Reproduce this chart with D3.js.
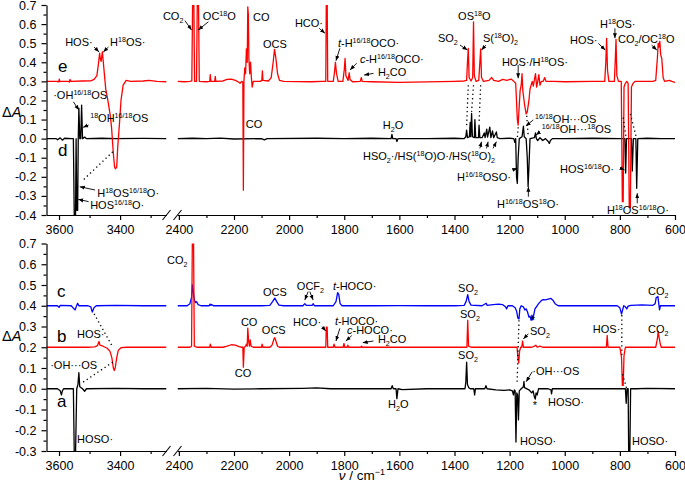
<!DOCTYPE html>
<html><head><meta charset="utf-8">
<script src="https://cdn.jsdelivr.net/npm/d3@7"></script>
<style>
body{margin:0;background:#fff;}
svg{display:block;font-family:Arial,"Liberation Sans",sans-serif;}
</style></head><body>
<svg id="chart" width="685" height="483"></svg>
<script>
// ---------- tick labels ----------
const xTicksLeft = [3600, 3400];
const xMinorLeft = [3500, 3300];
const xTicksRight = [2400, 2200, 2000, 1800, 1600, 1400, 1200, 1000, 800, 600];
const xMinorRight = [2300, 2100, 1900, 1700, 1500, 1300, 1100, 900, 700];
const yTicksTop = [-0.4, -0.3, -0.2, -0.1, 0.0, 0.1, 0.2, 0.3, 0.4, 0.5, 0.6, 0.7];
const yMinorTop = [-0.35, -0.25, -0.15, -0.05, 0.05, 0.15, 0.25, 0.35, 0.45, 0.55, 0.65];
const yTicksBot = [-0.3, -0.2, -0.1, 0.0, 0.1, 0.2, 0.3, 0.4, 0.5, 0.6, 0.7];
const yMinorBot = [-0.25, -0.15, -0.05, 0.05, 0.15, 0.25, 0.35, 0.45, 0.55, 0.65];

// ---------- spectra [wavenumber, dA] ----------
// top panel, trace e (red)
const eLeft = [[3641,0.300],[3609,0.300],[3601,0.298],[3599,0.312],[3598,0.300],[3569,0.300],[3566,0.296],[3564,0.310],[3561,0.300],[3523,0.302],[3496,0.303],[3485,0.310],[3476,0.330],[3471,0.390],[3467,0.448],[3465,0.420],[3462,0.405],[3458,0.455],[3456,0.420],[3451,0.330],[3447,0.260],[3440,0.200],[3433,0.130],[3428,0.060],[3422,-0.080],[3418,-0.150],[3415,-0.158],[3411,-0.148],[3408,-0.050],[3402,0.080],[3397,0.200],[3390,0.280],[3380,0.305],[3365,0.300],[3324,0.302],[3306,0.305],[3279,0.300],[3248,0.298]];
const eRight = [[2405,0.300],[2380,0.298],[2360,0.300],[2353,0.302],[2350,0.75],[2346,0.75],[2343,0.300],[2336,0.300],[2333,0.75],[2329,0.75],[2326,0.300],[2300,0.298],[2288,0.300],[2286,0.335],[2284,0.300],[2270,0.300],[2268,0.326],[2266,0.300],[2240,0.302],[2225,0.310],[2210,0.312],[2195,0.305],[2185,0.298],[2178,0.290],[2172,0.300],[2168,0.295],[2166,-0.27],[2164,0.300],[2161,0.370],[2158,0.340],[2155,0.470],[2152,0.400],[2150,0.690],[2148,0.650],[2146,0.420],[2143,0.340],[2140,0.400],[2137,0.320],[2134,0.270],[2130,0.300],[2105,0.300],[2099,0.305],[2097,0.355],[2095,0.305],[2075,0.302],[2065,0.320],[2058,0.400],[2053,0.468],[2048,0.420],[2042,0.340],[2035,0.305],[2020,0.300],[1920,0.298],[1880,0.300],[1867,0.300],[1865,0.75],[1862,0.75],[1860,0.300],[1840,0.300],[1836,0.340],[1832,0.400],[1828,0.340],[1822,0.300],[1805,0.300],[1800,0.360],[1797,0.420],[1794,0.330],[1786,0.305],[1782,0.345],[1779,0.310],[1770,0.298],[1742,0.300],[1738,0.320],[1735,0.300],[1700,0.298],[1600,0.295],[1500,0.297],[1400,0.300],[1365,0.302],[1356,0.305],[1353,0.400],[1350,0.473],[1347,0.320],[1340,0.302],[1334,0.320],[1331,0.612],[1328,0.330],[1322,0.300],[1312,0.305],[1308,0.400],[1305,0.470],[1302,0.320],[1295,0.300],[1275,0.305],[1265,0.320],[1258,0.305],[1240,0.300],[1225,0.310],[1210,0.305],[1195,0.312],[1185,0.300],[1178,0.290],[1172,0.100],[1169,0.071],[1166,0.150],[1162,0.250],[1158,0.280],[1155,0.340],[1152,0.250],[1146,0.180],[1140,0.130],[1136,0.140],[1130,0.200],[1126,0.260],[1122,0.280],[1118,0.300],[1114,0.275],[1110,0.310],[1106,0.340],[1102,0.270],[1098,0.300],[1094,0.335],[1090,0.280],[1085,0.300],[1078,0.300],[1073,0.320],[1068,0.300],[1040,0.300],[1000,0.298],[900,0.300],[855,0.300],[851,0.400],[848,0.525],[845,0.360],[840,0.300],[820,0.300],[817,0.400],[814,0.520],[811,0.330],[805,0.300],[795,0.300],[791,-0.33],[788,-0.33],[785,0.270],[780,0.290],[775,0.300],[770,0.290],[766,-0.36],[762,-0.36],[758,0.270],[752,0.290],[745,0.300],[680,0.300],[670,0.305],[664,0.420],[661,0.500],[658,0.480],[655,0.510],[652,0.440],[648,0.420],[643,0.320],[638,0.300],[620,0.305],[612,0.300],[600,0.295]];
// top panel, trace d (black)
const dLeft = [[3641,0.000],[3609,0.000],[3605,-0.006],[3596,0.004],[3589,-0.008],[3582,0.002],[3560,0.000],[3553,0.000],[3550,-0.42],[3546,-0.42],[3544,0.000],[3542,-0.375],[3539,-0.375],[3537,0.000],[3535,0.160],[3532,0.000],[3529,0.000],[3526,0.176],[3523,0.000],[3516,0.008],[3510,0.000],[3460,0.002],[3415,0.000],[3324,0.001],[3248,0.000]];
const dRight = [[2405,0.000],[2350,0.002],[2300,0.000],[2250,0.003],[2200,-0.002],[2100,0.000],[2090,-0.006],[2080,0.000],[1900,0.002],[1800,0.000],[1700,0.002],[1630,0.000],[1627,0.022],[1624,0.000],[1612,0.000],[1609,-0.015],[1605,0.000],[1500,0.000],[1400,0.002],[1365,0.000],[1359,0.010],[1356,0.045],[1353,0.005],[1346,0.010],[1343,0.085],[1341,0.010],[1338,0.132],[1335,0.010],[1328,0.005],[1326,0.100],[1323,0.005],[1313,0.005],[1311,0.070],[1308,0.005],[1300,0.005],[1292,0.030],[1289,0.005],[1283,0.050],[1280,0.008],[1272,0.060],[1268,0.005],[1262,0.040],[1258,0.005],[1248,0.035],[1245,0.005],[1235,0.000],[1200,0.002],[1185,0.000],[1181,-0.020],[1178,0.000],[1175,-0.20],[1172,-0.234],[1169,-0.10],[1165,0.000],[1155,0.010],[1150,0.065],[1147,0.010],[1140,0.000],[1136,-0.100],[1133,-0.250],[1130,-0.150],[1126,0.000],[1110,0.005],[1106,0.030],[1103,0.000],[1098,-0.010],[1090,0.005],[1080,-0.010],[1070,0.000],[1060,-0.015],[1056,-0.025],[1052,-0.010],[1045,0.000],[1000,0.000],[900,0.002],[800,0.000],[782,0.000],[779,-0.18],[776,0.000],[758,0.000],[755,-0.17],[751,0.000],[742,0.000],[739,-0.26],[735,0.000],[700,0.002],[650,0.000],[600,0.000]];
// bottom panel, trace c (blue)
const cLeft = [[3641,0.400],[3605,0.400],[3600,0.392],[3596,0.402],[3560,0.400],[3551,0.385],[3547,0.380],[3543,0.398],[3539,0.412],[3535,0.400],[3505,0.400],[3496,0.395],[3491,0.370],[3485,0.392],[3478,0.400],[3415,0.402],[3324,0.400],[3248,0.400]];
const cRight = [[2405,0.400],[2370,0.400],[2360,0.410],[2354,0.440],[2351,0.500],[2348,0.470],[2344,0.430],[2340,0.415],[2336,0.420],[2330,0.405],[2320,0.400],[2290,0.400],[2287,0.408],[2284,0.402],[2281,0.406],[2275,0.400],[2100,0.400],[2070,0.402],[2060,0.420],[2052,0.437],[2045,0.420],[2037,0.403],[2020,0.400],[1950,0.400],[1943,0.410],[1938,0.402],[1916,0.402],[1913,0.410],[1908,0.400],[1840,0.400],[1830,0.420],[1824,0.463],[1820,0.455],[1815,0.410],[1808,0.400],[1700,0.400],[1600,0.401],[1500,0.400],[1400,0.400],[1365,0.402],[1358,0.420],[1352,0.453],[1347,0.420],[1340,0.403],[1300,0.400],[1285,0.412],[1282,0.402],[1260,0.405],[1240,0.408],[1225,0.405],[1215,0.395],[1211,0.385],[1206,0.400],[1190,0.400],[1180,0.390],[1175,0.375],[1170,0.340],[1166,0.337],[1163,0.385],[1158,0.400],[1150,0.395],[1145,0.380],[1140,0.385],[1135,0.370],[1130,0.345],[1126,0.350],[1122,0.330],[1119,0.355],[1116,0.332],[1112,0.360],[1108,0.385],[1100,0.400],[1095,0.410],[1085,0.425],[1078,0.430],[1070,0.428],[1060,0.432],[1050,0.435],[1042,0.425],[1035,0.410],[1024,0.400],[900,0.400],[810,0.400],[800,0.390],[794,0.360],[790,0.380],[786,0.400],[780,0.395],[775,0.385],[770,0.398],[760,0.402],[720,0.404],[680,0.402],[672,0.410],[668,0.440],[665,0.440],[662,0.445],[659,0.410],[656,0.380],[653,0.400],[640,0.400],[600,0.400]];
// bottom panel, trace b (red)
const bLeft = [[3641,0.200],[3596,0.200],[3505,0.200],[3483,0.202],[3474,0.208],[3469,0.228],[3466,0.210],[3456,0.205],[3442,0.195],[3433,0.180],[3427,0.150],[3422,0.100],[3419,0.088],[3416,0.100],[3411,0.150],[3406,0.185],[3397,0.198],[3379,0.200],[3324,0.200],[3248,0.200]];
const bRight = [[2405,0.200],[2360,0.200],[2354,0.205],[2351,0.75],[2347,0.75],[2344,0.205],[2335,0.200],[2288,0.200],[2286,0.215],[2283,0.200],[2240,0.200],[2225,0.205],[2210,0.212],[2195,0.210],[2182,0.203],[2172,0.200],[2168,0.200],[2166,0.104],[2163,0.200],[2158,0.205],[2155,0.215],[2152,0.205],[2150,0.292],[2147,0.230],[2144,0.205],[2141,0.235],[2138,0.205],[2130,0.200],[2100,0.200],[2098,0.215],[2095,0.200],[2070,0.200],[2062,0.210],[2055,0.240],[2052,0.246],[2048,0.230],[2042,0.205],[2035,0.200],[1870,0.200],[1867,0.200],[1865,0.297],[1862,0.297],[1860,0.200],[1840,0.200],[1837,0.215],[1834,0.200],[1804,0.200],[1801,0.218],[1798,0.200],[1790,0.200],[1787,0.210],[1784,0.200],[1740,0.200],[1737,0.205],[1734,0.200],[1500,0.200],[1400,0.200],[1355,0.200],[1352,0.330],[1349,0.205],[1340,0.200],[1200,0.200],[1173,0.200],[1170,0.150],[1167,0.124],[1164,0.180],[1160,0.200],[1156,0.200],[1153,0.230],[1150,0.200],[1120,0.200],[1110,0.205],[1105,0.210],[1100,0.200],[1090,0.205],[1080,0.200],[860,0.200],[849,0.200],[846,0.257],[843,0.200],[800,0.200],[794,0.150],[791,0.016],[788,0.016],[785,0.160],[780,0.200],[670,0.200],[664,0.240],[661,0.276],[658,0.250],[654,0.220],[650,0.200],[600,0.200]];
// bottom panel, trace a (black)
const aLeft = [[3641,0.000],[3605,0.000],[3596,-0.010],[3592,-0.030],[3589,-0.010],[3585,0.000],[3560,0.000],[3553,0.000],[3550,-0.32],[3546,-0.32],[3542,0.000],[3538,0.020],[3535,0.077],[3532,0.010],[3523,0.000],[3516,-0.012],[3510,0.000],[3415,0.002],[3324,0.000],[3248,0.000]];
const aRight = [[2405,0.000],[2300,0.002],[2200,-0.002],[2100,0.000],[1950,0.002],[1900,0.004],[1850,0.000],[1700,0.000],[1630,0.000],[1626,0.015],[1622,0.000],[1612,0.000],[1609,-0.048],[1605,0.000],[1590,-0.004],[1500,0.000],[1400,0.000],[1362,0.000],[1359,0.030],[1356,0.128],[1353,0.020],[1348,0.005],[1343,0.000],[1330,0.000],[1327,-0.030],[1324,0.000],[1290,0.000],[1286,0.015],[1282,0.000],[1250,-0.005],[1220,-0.008],[1200,-0.005],[1190,-0.010],[1186,-0.030],[1183,-0.005],[1180,-0.010],[1177,-0.257],[1174,-0.020],[1171,-0.030],[1168,-0.150],[1165,-0.010],[1158,0.000],[1150,0.010],[1148,0.035],[1146,0.005],[1130,-0.005],[1120,-0.020],[1115,-0.010],[1110,-0.040],[1107,-0.050],[1104,-0.020],[1100,-0.030],[1095,0.000],[1060,0.000],[1050,-0.005],[1048,-0.025],[1045,0.000],[1000,0.000],[900,0.000],[790,0.000],[780,0.000],[777,-0.07],[774,0.000],[770,0.000],[768,-0.32],[764,-0.32],[761,0.000],[740,0.000],[700,0.002],[600,0.000]];

// ---------- annotations (wavenumber, dA) ----------
const lettersTop = [["e",3603,0.349],["d",3603,-0.091]];
const lettersBot = [["c",3607,0.442],["b",3607,0.225],["a",3607,-0.088]];
const labelsTop = [
 ["HOS·",3580,0.485],["H^{18}OS·",3433,0.485],["·OH^{16/18}OS",3619,0.208],["^{18}OH^{16/18}OS",3498,0.087],
 ["H^{18}OS^{16/18}O·",3475,-0.306],["HOS^{16/18}O·",3498,-0.369],
 ["CO_{2}",2458,0.621],["OC^{18}O",2313,0.621],["CO",2131,0.616],["OCS",2095,0.475],["HCO·",1979,0.585],
 ["<i>t</i>-H^{16/18}OCO·",1823,0.480],["<i>c</i>-H^{16/18}OCO·",1743,0.396],["H_{2}CO",1678,0.328],
 ["CO",2157,0.056],["H_{2}O",1660,0.050],["HSO_{2}·/HS(^{18}O)O·/HS(^{18}O)_{2}",1732,-0.112],
 ["OS^{18}O",1387,0.621],["SO_{2}",1460,0.506],["S(^{18}O)_{2}",1297,0.506],["HOS·/H^{18}OS·",1228,0.380],
 ["^{16/18}OH···OS",1108,0.080],["^{16/18}OH···^{18}OS",1083,0.028],["H^{16/18}OSO·",1391,-0.222],
 ["H^{16/18}OS^{18}O·",1246,-0.363],["HOS·",981,0.496],["H^{18}OS·",872,0.579],["CO_{2}/OC^{18}O",807,0.501],
 ["HOS^{16/18}O·",1017,-0.180],["H^{18}OS^{16/18}O·",847,-0.395]
];
const arrowsTop = [
 [[3485,0.48],[3469,0.454]],[[3438,0.48],[3455,0.454]],[[3553,0.193],[3535,0.150]],[[3503,0.071],[3521,0.059]],
 [[3482,-0.269],[3532,-0.252]],[[3503,-0.330],[3537,-0.318]],[[2378,0.618],[2354,0.569]],[[2293,0.612],[2330,0.569]],
 [[1891,0.578],[1870,0.552]],[[1816,0.473],[1830,0.408]],[[1755,0.395],[1779,0.360]],[[1694,0.342],[1728,0.333]],
 [[1380,0.49],[1353,0.464]],[[1286,0.49],[1302,0.464]],[[1169,0.386],[1169,0.316]],[[1114,0.098],[1141,0.066]],
 [[1090,0.036],[1104,0.019]],[[1308,-0.051],[1302,-0.016]],[[1284,-0.051],[1278,-0.016]],[[1260,-0.051],[1248,-0.016]],
 [[1190,-0.164],[1172,-0.155]],[[1132,-0.304],[1132,-0.252]],[[878,0.499],[853,0.464]],[[818,0.578],[818,0.526]],
 [[685,0.49],[666,0.464]],[[797,-0.155],[783,-0.164]],[[737,-0.339],[737,-0.286]]
];
const dotsTop = [
 [[3424,-0.069],[3521,-0.217]],[[1350,0.28],[1356,0.07]],[[1331,0.28],[1338,0.14]],[[1305,0.28],[1311,0.08]],
 [[1169,0.06],[1172,0.005]],[[1138,0.12],[1133,0.02]],[[788,0.11],[778,0.01]],[[762,0.13],[741,0.01]]
];
const labelsBot = [
 ["HOS·",3541,0.245],["·OH···OS",3629,0.095],["HOSO·",3541,-0.261],["CO_{2}",2443,0.601],
 ["OCS",2095,0.447],["OCF_{2}",1972,0.476],["<i>t</i>-HOCO·",1841,0.476],["CO",2175,0.302],["OCS",2099,0.264],
 ["HCO·",1986,0.302],["<i>t</i>-HOCO·",1834,0.309],["<i>c</i>-HOCO·",1790,0.265],["H_{2}CO",1678,0.221],
 ["CO",2197,0.057],["H_{2}O",1641,-0.093],["SO_{2}",1387,0.466],["SO_{2}",1380,0.341],["SO_{2}",1126,0.260],
 ["HOS·",898,0.269],["CO_{2}",698,0.452],["CO_{2}",698,0.269],["SO_{2}",1387,0.143],["·OH···OS",1118,0.066],
 ["HOSO·",1061,-0.083],["HOSO·",1162,-0.27],["HOSO·",756,-0.27]
];
const starsBot = [[1116,0.312],[1108,-0.097]];
const arrowsBot = [
 [[1931,0.468],[1943,0.428]],[[1925,0.468],[1913,0.428]],[[1880,0.299],[1867,0.278]],[[1816,0.291],[1830,0.23]],
 [[1773,0.256],[1794,0.23]],[[1694,0.23],[1733,0.222]],[[1132,0.265],[1150,0.24]],[[1118,0.082],[1140,0.034]]
];
const dotsBot = [
 [[3485,0.361],[3424,0.2]],[[3424,0.128],[3521,0.032]],[[1166,0.33],[1173,0.02]],[[793,0.355],[793,0.16]],[[790,0.07],[775,0.0]]
];

// ---------- scales ----------
const svg = d3.select("#chart");
const xL = d3.scaleLinear().domain([3641, 3248]).range([46.5, 166.5]);
const xR = d3.scaleLinear().domain([2405, 600]).range([177.5, 675]);
const X = v => v > 3000 ? xL(v) : xR(v);
const yTop = d3.scaleLinear().domain([-0.4, 0.7]).range([215, 5]);
const yBot = d3.scaleLinear().domain([-0.3, 0.7]).range([451, 243.5]);

const defs = svg.append("defs");
defs.append("marker").attr("id","arr").attr("viewBox","0 0 10 10").attr("refX",10).attr("refY",5)
  .attr("markerWidth",5).attr("markerHeight",5).attr("markerUnits","userSpaceOnUse").attr("orient","auto")
  .append("path").attr("d","M0,1L10,5L0,9Z").attr("fill","#000");

function clip(id, xs, ys){
  const xr = xs.range(), yr = ys.range();
  defs.append("clipPath").attr("id", id).append("rect")
    .attr("x", Math.min(...xr)).attr("y", Math.min(...yr))
    .attr("width", Math.abs(xr[1]-xr[0])).attr("height", Math.abs(yr[1]-yr[0]));
}
clip("tl", xL, yTop); clip("tr", xR, yTop); clip("bl", xL, yBot); clip("br", xR, yBot);

function rich(sel, s){
  const re = /\^\{([^}]*)\}|_\{([^}]*)\}|<i>([^<]*)<\/i>|([^\^_<]+)/g;
  let m, shift = 0;
  while ((m = re.exec(s))) {
    let target = 0, txt, small = false, ital = false;
    if (m[1] !== undefined) { target = -4; txt = m[1]; small = true; }
    else if (m[2] !== undefined) { target = 3; txt = m[2]; small = true; }
    else if (m[3] !== undefined) { txt = m[3]; ital = true; }
    else txt = m[4];
    const t = sel.append("tspan").attr("dy", target - shift);
    shift = target;
    if (small) t.attr("font-size", "0.65em");
    if (ital) t.attr("font-style", "italic");
    t.text(txt);
  }
}

const line = (ys, xs) => d3.line().x(d => xs(d[0])).y(d => ys(d[1]));

function trace(data, xs, ys, color, cid){
  svg.append("path").datum(data).attr("d", line(ys, xs)).attr("fill","none")
    .attr("stroke", color).attr("stroke-width", 1.3).attr("stroke-linejoin","round")
    .attr("clip-path", `url(#${cid})`);
}

function axes(ys, yMaj, yMin, yAxisPos){
  const fmt = d => d.toFixed(1);
  const ya = svg.append("g").attr("transform","translate(46.5,0)")
    .call(d3.axisLeft(ys).tickValues(yMaj).tickSize(5).tickSizeOuter(0).tickPadding(5).tickFormat(fmt));
  ya.attr("font-size", 12.5).attr("font-family", "Arial,'Liberation Sans',sans-serif");
  const ym = svg.append("g").attr("transform","translate(46.5,0)")
    .call(d3.axisLeft(ys).tickValues(yMin).tickSize(3).tickFormat(""));
  ym.select(".domain").remove();
  [[xL, xTicksLeft, xMinorLeft], [xR, xTicksRight, xMinorRight]].forEach(([xs, maj, mi]) => {
    const g = svg.append("g").attr("transform", `translate(0,${yAxisPos})`)
      .call(d3.axisBottom(xs).tickValues(maj).tickSize(5).tickSizeOuter(0).tickPadding(5).tickFormat(d => d));
    g.attr("font-size", 12.5).attr("font-family", "Arial,'Liberation Sans',sans-serif");
    const gm = svg.append("g").attr("transform", `translate(0,${yAxisPos})`)
      .call(d3.axisBottom(xs).tickValues(mi).tickSize(3).tickFormat(""));
    gm.select(".domain").remove();
  });
  svg.selectAll(".domain, .tick line").attr("stroke-width", 1.2);
  const cx1 = xL.range()[1], cx2 = xR.range()[0];
  [cx1, cx2].forEach(cx => {
    svg.append("line").attr("x1", cx-4).attr("y1", yAxisPos+5).attr("x2", cx+4).attr("y2", yAxisPos-5)
      .attr("stroke","#000").attr("stroke-width",1.1);
  });
}

function annotate(ys, labels, arrows, dots, letters){
  labels.forEach(([t, v, a]) => {
    const tx = svg.append("text").attr("x", X(v)).attr("y", ys(a)).attr("font-size", 11).attr("fill","#000");
    rich(tx, t);
  });
  letters.forEach(([t, v, a]) => {
    svg.append("text").attr("x", X(v)).attr("y", ys(a)).attr("font-size", 17).text(t);
  });
  arrows.forEach(([p, q]) => {
    svg.append("line").attr("x1", X(p[0])).attr("y1", ys(p[1])).attr("x2", X(q[0])).attr("y2", ys(q[1]))
      .attr("stroke","#000").attr("stroke-width",0.9).attr("marker-end","url(#arr)");
  });
  dots.forEach(([p, q]) => {
    svg.append("line").attr("x1", X(p[0])).attr("y1", ys(p[1])).attr("x2", X(q[0])).attr("y2", ys(q[1]))
      .attr("stroke","#000").attr("stroke-width",1.3).attr("stroke-dasharray","1.3,3");
  });
}

// ---------- top panel ----------
trace(dLeft, xL, yTop, "#000000", "tl");
trace(dRight, xR, yTop, "#000000", "tr");
trace(eLeft, xL, yTop, "#ff0000", "tl");
trace(eRight, xR, yTop, "#ff0000", "tr");
axes(yTop, yTicksTop, yMinorTop, 215);
annotate(yTop, labelsTop, arrowsTop, dotsTop, lettersTop);

// ---------- bottom panel ----------
trace(cLeft, xL, yBot, "#0000ff", "bl");
trace(cRight, xR, yBot, "#0000ff", "br");
trace(aLeft, xL, yBot, "#000000", "bl");
trace(aRight, xR, yBot, "#000000", "br");
trace(bLeft, xL, yBot, "#ff0000", "bl");
trace(bRight, xR, yBot, "#ff0000", "br");
axes(yBot, yTicksBot, yMinorBot, 451);
annotate(yBot, labelsBot, arrowsBot, dotsBot, lettersBot);
starsBot.forEach(([v, a]) => {
  svg.append("text").attr("x", X(v)).attr("y", yBot(a)).attr("font-size", 11).attr("text-anchor","middle").text("*");
});

// axis titles
[[117], [341]].forEach(([yy]) => {
  const t = svg.append("text").attr("x", 2).attr("y", yy).attr("font-size", 14.5);
  t.append("tspan").text("Δ");
  t.append("tspan").attr("font-style","italic").text("A");
});
const xt = svg.append("text").attr("x", 362).attr("y", 480).attr("font-size", 13.5).attr("text-anchor","middle");
xt.append("tspan").attr("font-style","italic").text("ν");
xt.append("tspan").text(" / cm");
xt.append("tspan").attr("dy", -5).attr("font-size", 9).text("−1");
</script>
</body></html>
